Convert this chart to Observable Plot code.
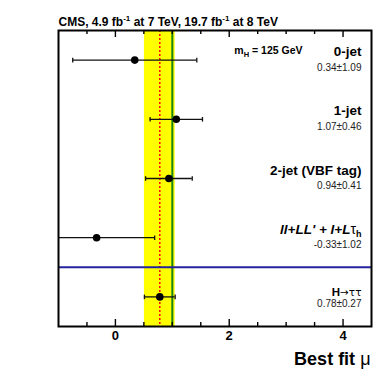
<!DOCTYPE html>
<html><head><meta charset="utf-8">
<script src="https://cdn.jsdelivr.net/npm/d3@7"></script>
<script src="https://cdn.jsdelivr.net/npm/@observablehq/plot@0.6"></script>
<style>body{margin:0;background:#fff} svg{display:block}</style>
</head><body><div id="chart"></div>
<script>
const categories = ["0-jet", "1-jet", "2-jet (VBF tag)", "ll+LL' + l+Lτh", "H→ττ"];
const mu = [0.34, 1.07, 0.94, -0.33, 0.78];
const err = [1.09, 0.46, 0.41, 1.02, 0.27];
const combinedIndex = 4;
const smValue = [1];
const xTicksMajor = [0, 2, 4];
const xTicksMinor = [-0.5, 0.5, 1, 1.5, 2.5, 3, 3.5];
const titleText = "CMS, 4.9 fb-1 at 7 TeV, 19.7 fb-1 at 8 TeV";
const massText = "mH = 125 GeV";
const xTitle = "Best fit μ";

const rows = categories.map((name, i) => ({
  name, i, mu: mu[i], err: err[i], lo: mu[i] - err[i], hi: mu[i] + err[i],
  value: `${mu[i].toFixed(2)}±${err[i].toFixed(2)}`
}));
const comb = rows[combinedIndex];
const yc = d => d.i + 0.5;
const vbar = {draw(ctx, size) { const h = Math.sqrt(size / Math.PI); ctx.moveTo(0, -h); ctx.lineTo(0, h); }};
const font = "'Liberation Sans', Arial, Helvetica, sans-serif";

const W = 390, H = 375, mL = 58, mR = 19, mT = 30, mB = 49;
const frameH = H - mT - mB;
// inward tick marks: a full-height tickX inset down to a few pixels at one edge
const tickMarks = (ticks, edge, len) => Plot.tickX(ticks, {
  x: d => d, stroke: "#000", strokeWidth: 1.4,
  insetTop: edge === "bottom" ? frameH - len : 0,
  insetBottom: edge === "top" ? frameH - len : 0
});

const plot = Plot.plot({
  width: W, height: H,
  marginLeft: mL, marginRight: mR, marginTop: mT, marginBottom: mB,
  style: {fontFamily: font, background: "#fff"},
  x: {domain: [-1, 4.5], label: null},
  y: {domain: [0, categories.length], reverse: true, axis: null},
  marks: [
    Plot.rect([comb], {x1: "lo", x2: "hi", fill: "#ffff00"}),
    Plot.ruleX(smValue, {stroke: "#1a861a", strokeWidth: 2}),
    Plot.ruleX([comb], {x: "mu", stroke: "#ff0000", strokeWidth: 1.5, strokeDasharray: "2,2"}),
    Plot.ruleY([combinedIndex], {stroke: "#24249c", strokeWidth: 2}),
    Plot.ruleY(rows, {y: yc, x1: "lo", x2: "hi", stroke: "#111", strokeWidth: 1.3, clip: true}),
    Plot.dot(rows, {x: "lo", y: yc, symbol: vbar, r: 2.3, fill: "none", stroke: "#111", strokeWidth: 1.3, clip: true}),
    Plot.dot(rows, {x: "hi", y: yc, symbol: vbar, r: 2.3, fill: "none", stroke: "#111", strokeWidth: 1.3, clip: true}),
    Plot.dot(rows, {x: "mu", y: yc, r: 3.8, fill: "#000", stroke: "none"}),
    // row labels
    Plot.text(rows.filter(d => d.i !== combinedIndex), {text: "name", y: yc, frameAnchor: "right", textAnchor: "end", lineAnchor: "bottom", dx: -10, dy: -4, fontSize: 13.5, fontWeight: "bold", fill: "#000"}),
    Plot.text([comb], {text: "name", y: yc, frameAnchor: "right", textAnchor: "end", lineAnchor: "bottom", dx: -10, dy: -1, fontSize: 11.5, fontWeight: "bold", fill: "#000"}),
    Plot.text(rows, {text: "value", y: yc, frameAnchor: "right", textAnchor: "end", lineAnchor: "bottom", dx: -10, dy: 10.5, fontSize: 10, fill: "#222"}),
    Plot.text([massText], {frameAnchor: "top-right", textAnchor: "end", lineAnchor: "bottom", dx: -69, dy: 23, fontSize: 10.5, fontWeight: "bold", fill: "#000"}),
    Plot.text([titleText], {frameAnchor: "top-left", textAnchor: "start", lineAnchor: "bottom", dy: -5, fontSize: 12, fontWeight: "bold", fill: "#000"}),
    Plot.text([xTitle], {frameAnchor: "bottom-right", textAnchor: "end", lineAnchor: "bottom", dx: -1, dy: 38, fontSize: 18, fontWeight: "bold", fill: "#000"}),
    tickMarks(xTicksMajor, "bottom", 7),
    tickMarks(xTicksMinor, "bottom", 4),
    tickMarks(xTicksMajor, "top", 7),
    tickMarks(xTicksMinor, "top", 4),
    Plot.axisX({anchor: "bottom", ticks: xTicksMajor, tickSize: 0, tickPadding: 4, tickFormat: d => String(d), fontSize: 13, fontWeight: "bold", fill: "#000", label: null}),
    Plot.frame({stroke: "#000", strokeWidth: 2})
  ]
});

const rich = new Map([
  [titleText, `CMS, 4.9 fb<tspan dy="-5" font-size="8">-1</tspan><tspan dy="5"> at 7 TeV, 19.7 fb</tspan><tspan dy="-5" font-size="8">-1</tspan><tspan dy="5"> at 8 TeV</tspan>`],
  [massText, `m<tspan dy="3" font-size="7.5">H</tspan><tspan dy="-3"> = 125 GeV</tspan>`],
  [categories[3], `<tspan font-style="italic">ll+LL' + l+L</tspan><tspan font-weight="normal" font-size="14">τ</tspan><tspan dy="3" font-size="9">h</tspan>`],
  [categories[4], `H<tspan font-weight="normal" font-family="'DejaVu Sans', sans-serif" font-size="10.5">→ττ</tspan>`],
  [xTitle, `Best fit <tspan font-weight="normal">μ</tspan>`]
]);
d3.select(plot).selectAll("text").each(function () {
  const t = this.textContent;
  if (rich.has(t)) this.innerHTML = rich.get(t);
});
document.getElementById("chart").appendChild(plot);
</script>
</body></html>
